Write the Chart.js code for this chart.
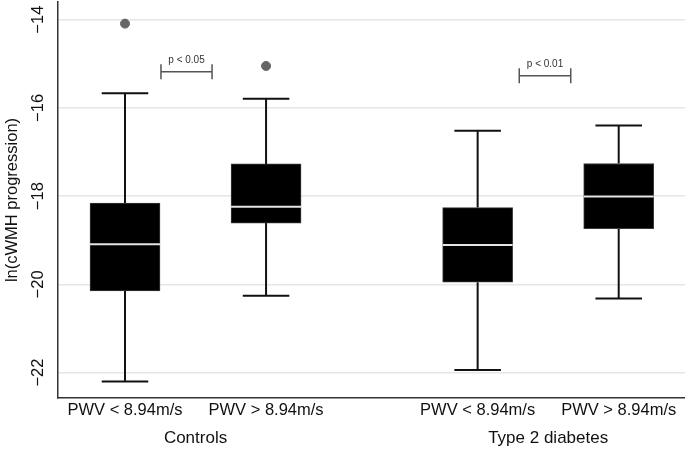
<!DOCTYPE html>
<html>
<head>
<meta charset="utf-8">
<title>ln(cWMH progression) by PWV</title>
<script src="https://cdn.jsdelivr.net/npm/chart.js@4.4.1/dist/chart.umd.min.js"></script>
<style>
  html, body { margin: 0; padding: 0; background: #fff; }
  #wrap { width: 685px; height: 449px; position: relative; }
</style>
</head>
<body>
<div id="wrap"><canvas id="chart"></canvas></div>
<script>
// box plot values
const boxLabels = ['PWV < 8.94m/s', 'PWV > 8.94m/s', 'PWV < 8.94m/s', 'PWV > 8.94m/s'];
const boxPos = [1, 2, 3.5, 4.5];
const lowerWhisker = [-22.2, -20.26, -21.94, -20.32];
const q1 = [-20.15, -18.61, -19.95, -18.74];
const median = [-19.09, -18.24, -19.11, -18.01];
const q3 = [-18.16, -17.27, -18.26, -17.26];
const upperWhisker = [-15.67, -15.79, -16.52, -16.40];
const outlierPos = [1, 2];
const outlierVal = [-14.09, -15.05];

// group labels under the axis
const groupNames = ['Controls', 'Type 2 diabetes'];
const groupPos = [1.5, 4];

// significance brackets
const pLabels = ['p < 0.05', 'p < 0.01'];
const pFrom = [1.255, 3.795];
const pTo = [1.617, 4.16];
const pLevel = [-15.18, -15.27];

const yTicks = [-22, -20, -18, -16, -14];

const BOX_HALF = 0.248;
const CAP_HALF = 0.165;
const BRACKET_TICK = 0.17;
const FONT = '"Liberation Sans", Arial, Helvetica, sans-serif';

const minus = (v) => String(v).replace('-', '\u2212');

function segments(list) {
  // list of [[x1,y1],[x2,y2]] -> points with gaps
  const out = [];
  list.forEach(([a, b]) => {
    out.push({ x: a[0], y: a[1] }, { x: b[0], y: b[1] }, { x: b[0], y: null });
  });
  return out;
}

const whiskerSegs = [];
const medianSegs = [];
boxPos.forEach((x, i) => {
  whiskerSegs.push([[x, q3[i]], [x, upperWhisker[i]]]);
  whiskerSegs.push([[x, q1[i]], [x, lowerWhisker[i]]]);
  whiskerSegs.push([[x - CAP_HALF, upperWhisker[i]], [x + CAP_HALF, upperWhisker[i]]]);
  whiskerSegs.push([[x - CAP_HALF, lowerWhisker[i]], [x + CAP_HALF, lowerWhisker[i]]]);
  medianSegs.push([[x - BOX_HALF, median[i]], [x + BOX_HALF, median[i]]]);
});

const bracketSegs = [];
pLabels.forEach((_, i) => {
  bracketSegs.push([[pFrom[i], pLevel[i]], [pTo[i], pLevel[i]]]);
  bracketSegs.push([[pFrom[i], pLevel[i] - BRACKET_TICK], [pFrom[i], pLevel[i] + BRACKET_TICK]]);
  bracketSegs.push([[pTo[i], pLevel[i] - BRACKET_TICK], [pTo[i], pLevel[i] + BRACKET_TICK]]);
});

// text bits drawn at scale positions
const textPlugin = {
  id: 'texts',
  afterDraw(chart) {
    const { ctx, scales: { x, y } } = chart;
    ctx.save();
    ctx.fillStyle = '#111';
    // y tick labels, rotated
    ctx.font = '16.5px ' + FONT;
    ctx.textAlign = 'center';
    ctx.textBaseline = 'middle';
    y.ticks.forEach((t) => {
      ctx.save();
      ctx.translate(38, y.getPixelForValue(t.value));
      ctx.rotate(-Math.PI / 2);
      ctx.fillText(minus(t.value), 0, 0);
      ctx.restore();
    });
    // y title
    ctx.save();
    ctx.translate(12, (chart.chartArea.top + chart.chartArea.bottom) / 2);
    ctx.rotate(-Math.PI / 2);
    ctx.fillText('ln(cWMH progression)', 0, 0);
    ctx.restore();
    // group labels
    ctx.font = '17px ' + FONT;
    ctx.textBaseline = 'alphabetic';
    groupNames.forEach((g, i) => {
      ctx.fillText(g, x.getPixelForValue(groupPos[i]), 443);
    });
    // p values
    ctx.font = '10px ' + FONT;
    ctx.fillStyle = '#333';
    pLabels.forEach((p, i) => {
      const cx = x.getPixelForValue((pFrom[i] + pTo[i]) / 2);
      ctx.fillText(p, cx, y.getPixelForValue(pLevel[i]) - 9);
    });
    ctx.restore();
  }
};

new Chart(document.getElementById('chart'), {
  type: 'scatter',
  data: {
    datasets: [
      {
        type: 'line',
        label: 'whiskers',
        data: segments(whiskerSegs),
        borderColor: '#111',
        borderWidth: 2,
        pointRadius: 0,
        spanGaps: false,
        order: 3
      },
      {
        type: 'bar',
        label: 'boxes',
        data: boxPos.map((x, i) => ({ x: x, y: [q1[i], q3[i]] })),
        backgroundColor: '#000',
        borderColor: '#3a3a3a',
        borderWidth: 1,
        borderSkipped: false,
        barThickness: 70,
        order: 2
      },
      {
        type: 'line',
        label: 'median',
        data: segments(medianSegs),
        borderColor: '#e4e4e4',
        borderWidth: 2,
        pointRadius: 0,
        spanGaps: false,
        order: 1
      },
      {
        type: 'scatter',
        label: 'outliers',
        data: outlierPos.map((x, i) => ({ x: x, y: outlierVal[i] })),
        backgroundColor: '#666',
        borderColor: '#666',
        pointRadius: 4.5,
        order: 1
      },
      {
        type: 'line',
        label: 'brackets',
        data: segments(bracketSegs),
        borderColor: '#555',
        borderWidth: 1.5,
        pointRadius: 0,
        spanGaps: false,
        order: 1
      }
    ]
  },
  options: {
    responsive: true,
    maintainAspectRatio: false,
    animation: false,
    layout: { autoPadding: false, padding: { top: 2, right: 0, left: 0, bottom: 0 } },
    plugins: { legend: { display: false }, tooltip: { enabled: false } },
    scales: {
      x: {
        type: 'linear',
        min: 0.525,
        max: 4.97,
        offset: false,
        grid: { display: false, drawTicks: false },
        border: { display: true, color: '#333', width: 1.5 },
        afterBuildTicks: (s) => { s.ticks = boxPos.map((v) => ({ value: v })); },
        afterFit: (s) => { s.height = 51; s.paddingLeft = 0; s.paddingRight = 0; },
        ticks: {
          autoSkip: false,
          maxRotation: 0,
          padding: 3,
          color: '#111',
          font: { family: FONT, size: 16.5 },
          callback: (v, i) => boxLabels[i]
        }
      },
      y: {
        min: -22.575,
        max: -13.6,
        grid: { color: '#e6e6e6', lineWidth: 1.5, drawTicks: false },
        border: { display: true, color: '#333', width: 1.5 },
        afterBuildTicks: (s) => { s.ticks = yTicks.map((v) => ({ value: v })); },
        afterFit: (s) => { s.width = 58; s.paddingTop = 0; s.paddingBottom = 0; },
        ticks: { display: false }
      }
    }
  },
  plugins: [textPlugin]
});
</script>
</body>
</html>
